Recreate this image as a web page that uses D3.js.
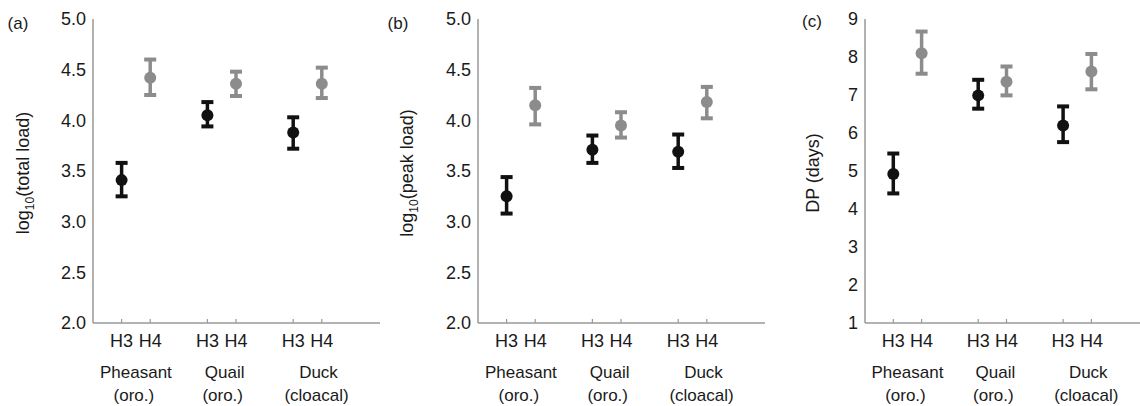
<!DOCTYPE html>
<html><head><meta charset="utf-8">
<script src="https://cdn.jsdelivr.net/npm/d3@7"></script>
<style>body{margin:0;background:#fff;} text{font-family:"Liberation Sans",Arial,Helvetica,sans-serif;fill:#1a1a1a;}</style>
</head><body>
<svg id="c" width="1140" height="406"></svg>
<script>
const groups = ["Pheasant", "Quail", "Duck"];
const groupSub = ["(oro.)", "(oro.)", "(cloacal)"];
const subtypes = ["H3", "H4"];
// mean, lower, upper for H3 then H4 per group
const totalMean = [[3.41, 4.42], [4.05, 4.36], [3.88, 4.36]];
const totalLow  = [[3.25, 4.25], [3.94, 4.24], [3.72, 4.22]];
const totalHigh = [[3.58, 4.60], [4.18, 4.48], [4.03, 4.52]];
const peakMean = [[3.25, 4.15], [3.71, 3.95], [3.69, 4.18]];
const peakLow  = [[3.08, 3.96], [3.58, 3.83], [3.53, 4.02]];
const peakHigh = [[3.44, 4.32], [3.85, 4.08], [3.86, 4.33]];
const dpMean = [[4.92, 8.10], [6.99, 7.35], [6.20, 7.62]];
const dpLow  = [[4.41, 7.56], [6.64, 6.99], [5.76, 7.15]];
const dpHigh = [[5.46, 8.67], [7.40, 7.75], [6.70, 8.08]];
const ticksLoad = [2.0, 2.5, 3.0, 3.5, 4.0, 4.5, 5.0];
const ticksDP = [1, 2, 3, 4, 5, 6, 7, 8, 9];

const svg = d3.select("#c");
const colors = ["#111111", "#8c8c8c"];
const labOff = [0, 3, 11];

const panels = [
  {letter:"(a)", lx:18, ly:23, ax:93, xr:286, xend:380, domain:[2,5], ticks:ticksLoad, fmt:d3.format(".1f"),
   mean:totalMean, low:totalLow, high:totalHigh, title:["log","10","(total load)"], tx:23},
  {letter:"(b)", lx:398, ly:23, ax:478, xr:286, xend:765, domain:[2,5], ticks:ticksLoad, fmt:d3.format(".1f"),
   mean:peakMean, low:peakLow, high:peakHigh, title:["log","10","(peak load)"], tx:407},
  {letter:"(c)", lx:812, ly:21, ax:865, xr:283, xend:1140, domain:[1,9], ticks:ticksDP, fmt:d3.format("d"),
   mean:dpMean, low:dpLow, high:dpHigh, title:["DP (days)"], tx:813}
];

panels.forEach(p => {
  const g = svg.append("g");
  const y = d3.scaleLinear().domain(p.domain).range([323, 19]);
  const x = d3.scaleLinear().domain([0, 10]).range([p.ax, p.ax + p.xr]);
  const pos = (gi, si) => x(gi * 3 + 1 + si);

  // axes lines
  g.append("line").attr("x1", p.ax).attr("x2", p.ax).attr("y1", 19).attr("y2", 323)
    .attr("stroke", "#999").attr("stroke-width", 1.5);
  g.append("line").attr("x1", p.ax).attr("x2", p.xend).attr("y1", 323).attr("y2", 323)
    .attr("stroke", "#999").attr("stroke-width", 1.5);

  // y tick labels
  g.selectAll(".yt").data(p.ticks).enter().append("text")
    .attr("x", p.ax - 7).attr("y", d => y(d)).attr("dy", "0.36em")
    .attr("text-anchor", "end").attr("font-size", 18).text(d => p.fmt(d));

  // x ticks and labels
  groups.forEach((gn, gi) => {
    subtypes.forEach((st, si) => {
      const px = pos(gi, si);
      g.append("line").attr("x1", px).attr("x2", px).attr("y1", 319).attr("y2", 323)
        .attr("stroke", "#999").attr("stroke-width", 1.2);
      g.append("text").attr("x", px).attr("y", 347).attr("text-anchor", "middle")
        .attr("font-size", 18).text(st);
    });
    const cx = (pos(gi, 0) + pos(gi, 1)) / 2 + labOff[gi];
    g.append("text").attr("x", cx).attr("y", 378).attr("text-anchor", "middle")
      .attr("font-size", 17).text(gn);
    g.append("text").attr("x", cx - 2).attr("y", 401).attr("text-anchor", "middle")
      .attr("font-size", 17).text(groupSub[gi]);
  });

  // error bars + markers
  groups.forEach((gn, gi) => {
    subtypes.forEach((st, si) => {
      const px = pos(gi, si);
      const c = colors[si];
      const yl = y(p.low[gi][si]), yh = y(p.high[gi][si]), ym = y(p.mean[gi][si]);
      g.append("line").attr("x1", px).attr("x2", px).attr("y1", yl).attr("y2", yh)
        .attr("stroke", c).attr("stroke-width", 3.5);
      [yl, yh].forEach(yy => {
        g.append("rect").attr("x", px - 6).attr("y", yy - 2).attr("width", 12).attr("height", 4).attr("fill", c);
      });
      g.append("circle").attr("cx", px).attr("cy", ym).attr("r", 6).attr("fill", c);
    });
  });

  // panel letter
  g.append("text").attr("x", p.lx).attr("y", p.ly).attr("dy", "0.36em").attr("text-anchor", "middle")
    .attr("font-size", 17).text(p.letter);

  // y title
  const t = g.append("text").attr("transform", `translate(${p.tx},173) rotate(-90)`)
    .attr("text-anchor", "middle").attr("dy", "0.36em").attr("font-size", 18);
  if (p.title.length === 3) {
    t.append("tspan").text(p.title[0]);
    t.append("tspan").attr("font-size", 12).attr("dy", "0.35em").text(p.title[1]);
    t.append("tspan").attr("dy", "-0.25em").text(p.title[2]);
  } else {
    t.text(p.title[0]);
  }
});
</script>
</body></html>
